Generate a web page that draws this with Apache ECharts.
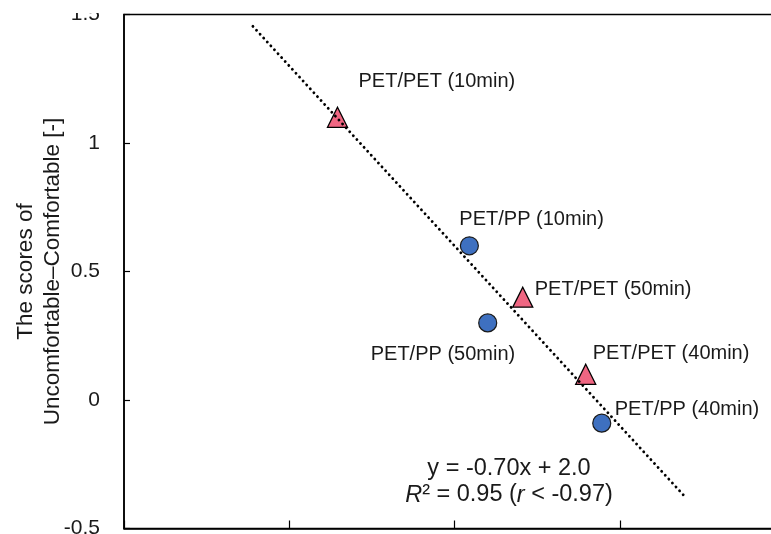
<!DOCTYPE html>
<html>
<head>
<meta charset="utf-8">
<script src="https://cdn.jsdelivr.net/npm/echarts@6/dist/echarts.min.js"></script>
<style>
  html, body { margin: 0; padding: 0; background: #fff; }
  #chart { width: 771px; height: 534px; }
</style>
</head>
<body>
<div id="chart"></div>
<script>
// Comfort scores against the horizontal measure, two fabric combinations
const petPetNames = ['PET/PET (10min)', 'PET/PET (50min)', 'PET/PET (40min)'];
const petPetX = [1.292, 2.413, 2.794];
const petPetY = [1.10, 0.40, 0.10];

const petPpNames = ['PET/PP (10min)', 'PET/PP (50min)', 'PET/PP (40min)'];
const petPpX = [2.090, 2.201, 2.891];
const petPpY = [0.60, 0.30, -0.09];

// Linear fit y = -0.70x + 2.0, drawn over this x span
const fitSlope = -0.70;
const fitIntercept = 2.0;
const fitX = [0.78, 3.39];

const yTicks = [-0.5, 0, 0.5, 1, 1.5];

// Label placement (text start relative to the point centre)
const labelOffsets = {
  'PET/PET (10min)': [21, -36],
  'PET/PET (50min)': [12, -8],
  'PET/PET (40min)': [7, -21],
  'PET/PP (10min)': [-10, -26],
  'PET/PP (50min)': [-117, 32],
  'PET/PP (40min)': [13, -14]
};

const FONT = '"Liberation Sans", Arial, sans-serif';

function points(names, xs, ys) {
  return names.map((n, i) => ({
    name: n,
    value: [xs[i], ys[i]],
    label: { offset: labelOffsets[n] }
  }));
}

const pointLabel = {
  show: true,
  position: 'inside',
  align: 'left',
  verticalAlign: 'middle',
  formatter: '{b}',
  color: '#1a1a1a',
  fontFamily: FONT,
  fontSize: 20
};

const chart = echarts.init(document.getElementById('chart'));
chart.setOption({
  animation: false,
  backgroundColor: '#ffffff',
  grid: {
    left: 124, top: 14.5, right: -14, bottom: 5.5,
    outerBoundsMode: 'none',
    containLabel: false,
    show: true, borderColor: '#000', borderWidth: 1.5, backgroundColor: 'transparent'
  },
  xAxis: {
    type: 'value', min: 0, max: 4, interval: 1,
    axisLine: { show: true, onZero: false, lineStyle: { color: '#000', width: 1.5 } },
    axisTick: { show: true, inside: true, length: 8, lineStyle: { color: '#000', width: 1.2 } },
    axisLabel: { show: false },
    splitLine: { show: false }
  },
  yAxis: {
    type: 'value', min: yTicks[0], max: yTicks[yTicks.length - 1], interval: 0.5,
    axisLine: { show: true, onZero: false, lineStyle: { color: '#000', width: 1.5 } },
    axisTick: { show: true, inside: true, length: 6, lineStyle: { color: '#000', width: 1.2 } },
    axisLabel: {
      margin: 24, color: '#1a1a1a', fontFamily: FONT, fontSize: 21,
      formatter: v => String(v)
    },
    splitLine: { show: false },
    name: 'The scores of\nUncomfortable\u2013Comfortable [-]',
    nameLocation: 'middle',
    nameGap: 58,
    nameMoveOverlap: false,
    nameRotate: 90,
    nameTextStyle: { color: '#1a1a1a', fontFamily: FONT, fontSize: 22.5, lineHeight: 27 }
  },
  series: [
    {
      name: 'PET/PET',
      type: 'scatter',
      symbol: 'triangle',
      symbolSize: [20, 20],
      itemStyle: { color: '#EF6682', borderColor: '#000', borderWidth: 1.3, opacity: 1 },
      label: pointLabel,
      data: points(petPetNames, petPetX, petPetY),
      z: 2
    },
    {
      name: 'PET/PP',
      type: 'scatter',
      symbol: 'circle',
      symbolSize: 18,
      itemStyle: { color: '#3E70C0', borderColor: '#1a1a1a', borderWidth: 1.2, opacity: 1 },
      label: pointLabel,
      data: points(petPpNames, petPpX, petPpY),
      z: 2
    },
    {
      name: 'fit',
      type: 'line',
      data: fitX.map(x => [x, fitSlope * x + fitIntercept]),
      symbol: 'none',
      silent: true,
      lineStyle: { color: '#000', width: 2.8, type: [0.1, 5.2], cap: 'round' },
      z: 5
    }
  ],
  graphic: [
    {
      // hides the upper part of the top tick label, cut at the edge
      type: 'rect', left: 0, top: 0, z: 100,
      shape: { width: 120, height: 13 },
      style: { fill: '#fff' }
    },
    {
      type: 'text', x: 509, y: 482, z: 10,
      style: {
        text: 'y = -0.70x + 2.0\n{i|R}\u00b2 = 0.95 ({i|r} < -0.97)',
        align: 'center', verticalAlign: 'middle',
        fontFamily: FONT, fontSize: 23.5, lineHeight: 26, fill: '#1a1a1a',
        rich: { i: { fontStyle: 'italic', fontFamily: FONT, fontSize: 23.5, fill: '#1a1a1a' } }
      }
    }
  ]
});
</script>
</body>
</html>
